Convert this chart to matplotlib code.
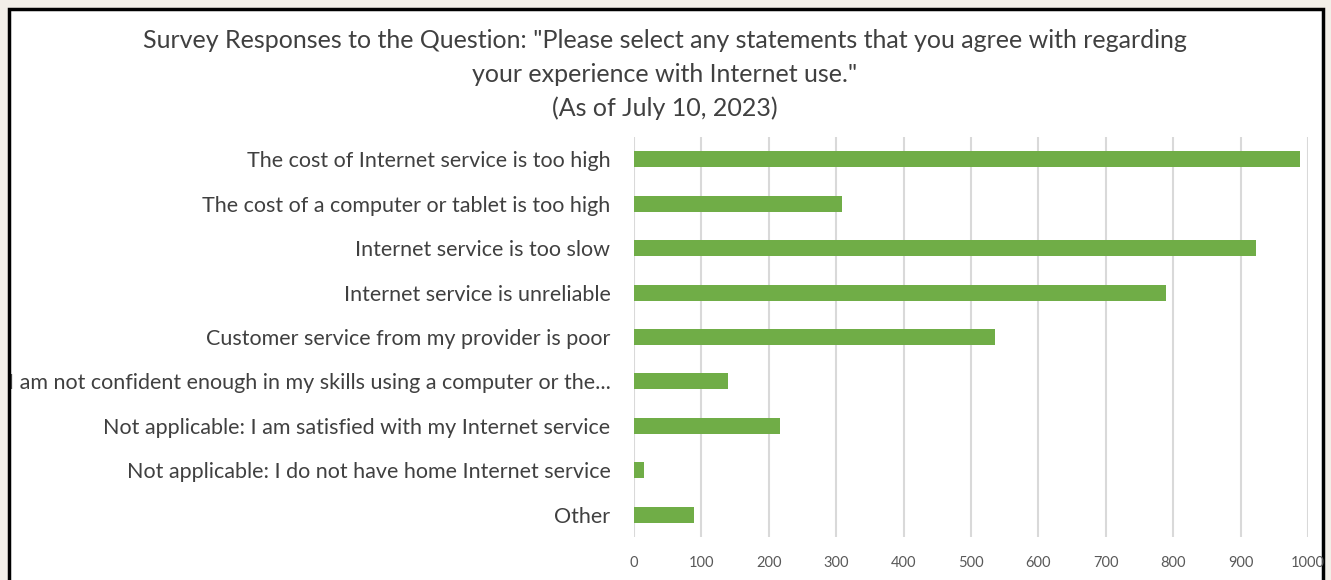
import matplotlib
matplotlib.use("Agg")
import matplotlib.pyplot as plt
from matplotlib.patches import Rectangle
from matplotlib.transforms import Bbox

categories = [
    "The cost of Internet service is too high",
    "The cost of a computer or tablet is too high",
    "Internet service is too slow",
    "Internet service is unreliable",
    "Customer service from my provider is poor",
    "I am not confident enough in my skills using a computer or the...",
    "Not applicable: I am satisfied with my Internet service",
    "Not applicable: I do not have home Internet service",
    "Other",
]
values = [988, 308, 923, 790, 536, 139, 216, 15, 89]
xticks = [0, 100, 200, 300, 400, 500, 600, 700, 800, 900, 1000]
title = ('Survey Responses to the Question: "Please select any statements that you agree with regarding\n'
         'your experience with Internet use."\n(As of July 10, 2023)')

W, H = 1331, 580
fig = plt.figure(figsize=(W / 100, H / 100), dpi=100)
fig.patch.set_facecolor("#f2efe8")
FONT = "Lato"

# white framed panel
frame = Rectangle((9 / W, -0.1), (1323 - 9) / W, (H - 9) / H + 0.1,
                  transform=fig.transFigure, facecolor="white", edgecolor="black",
                  linewidth=2.5, zorder=-1)
fig.patches.append(frame)

ax = fig.add_axes([634 / W, 1 - 537 / H, (1308 - 634) / W, (537 - 137) / H])
ax.set_facecolor("none")
ypos = list(range(len(categories)))
ax.barh(ypos, values, height=0.36, color="#70ad47", zorder=3)
ax.set_ylim(len(categories) - 0.5, -0.5)
ax.set_xlim(0, 1000)
ax.set_xticks(xticks)
ax.set_xticklabels([str(t) for t in xticks], fontsize=10.5, color="#595959", family=FONT)
ax.set_yticks(ypos)
ax.set_yticklabels(categories, fontsize=15.45, color="#404040", family=FONT)
ax.tick_params(axis="y", length=0, pad=17)
ax.tick_params(axis="x", length=0, pad=14)
ax.grid(axis="x", color="#d9d9d9", linewidth=1.5, zorder=0)
for s in ax.spines.values():
    s.set_visible(False)

fig.text(665 / W, 1 - 29 / H, title, ha="center", va="top", fontsize=18,
         color="#404040", family=FONT, linespacing=1.56)

fig.canvas.draw()
clip = Bbox.from_extents(11, 0, W, H)
for lab in ax.get_yticklabels():
    lab.set_clip_box(clip)
    lab.set_clip_on(True)

fig.savefig("out.png", dpi=100, facecolor=fig.get_facecolor())
